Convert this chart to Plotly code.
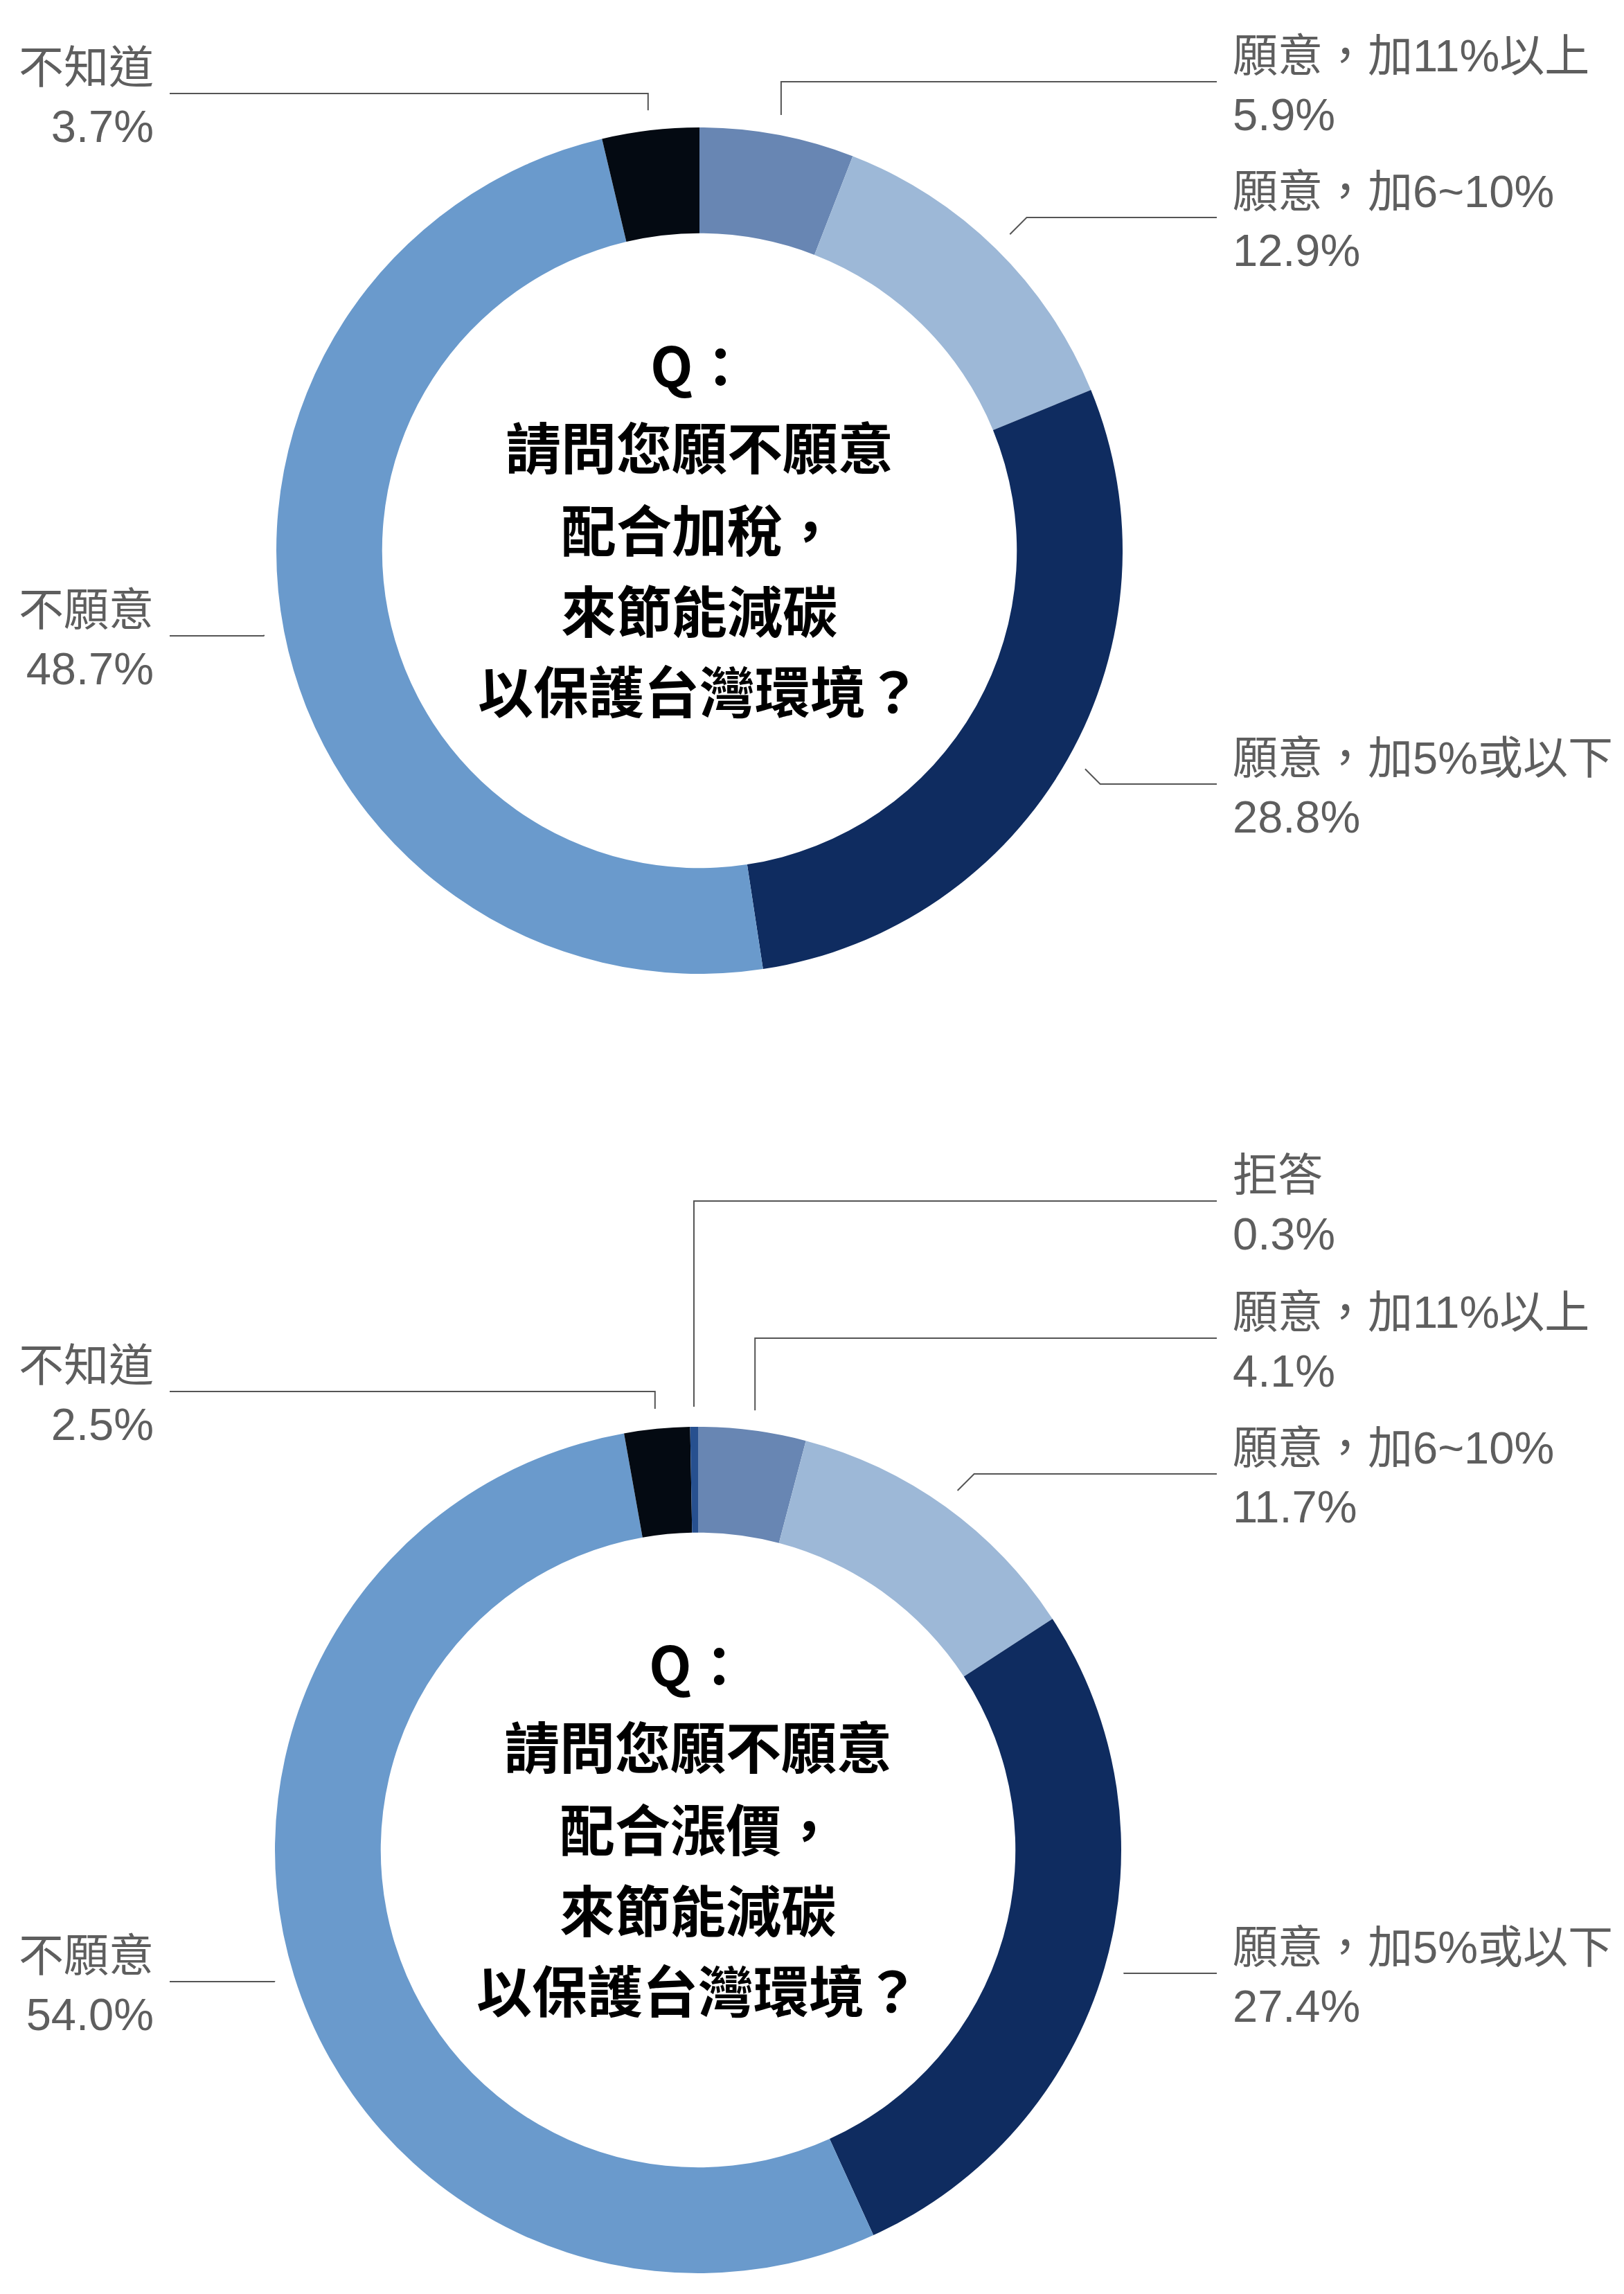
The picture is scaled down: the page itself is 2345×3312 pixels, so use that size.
"""Two donut charts: willingness to pay more for carbon reduction."""

import math

import plotly.graph_objects as go

W, H = 2345, 3312

# ----- data ------------------------------------------------------------------

tax_labels = ["願意，加11%以上", "願意，加6~10%", "願意，加5%或以下", "不願意", "不知道"]
tax_values = [5.9, 12.9, 28.8, 48.7, 3.7]
tax_question = ["Q：", "請問您願不願意", "配合加稅，", "來節能減碳", "以保護台灣環境？"]

price_labels = ["願意，加11%以上", "願意，加6~10%", "願意，加5%或以下", "不願意", "不知道", "拒答"]
price_values = [4.1, 11.7, 27.4, 54.0, 2.5, 0.3]
price_question = ["Q：", "請問您願不願意", "配合漲價，", "來節能減碳", "以保護台灣環境？"]

COLORS = {
    "願意，加11%以上": "#6886B3",
    "願意，加6~10%": "#9DB8D7",
    "願意，加5%或以下": "#0F2C60",
    "不願意": "#6A9ACC",
    "不知道": "#040A12",
    "拒答": "#27508F",
}

# ----- layout (pixels) -------------------------------------------------------

LABEL_FONT = "Liberation Sans, Noto Sans CJK TC, sans-serif"
TITLE_FONT = "Noto Sans CJK TC, sans-serif"
LABEL_COLOR = "#5E5E5E"
LINE_COLOR = "#555555"
RIGHT_LINE_END, RIGHT_TEXT_X = 1749, 1770
LEFT_LINE_END, LEFT_TEXT_X = 237, 216
HOLE = 0.75
LEADER_R = 640
Q_OFFSETS = [-271, -153, -34, 83, 199]

donuts = [
    dict(labels=tax_labels, values=tax_values, question=tax_question,
         cx=1002, cy=787, r=611, line_y=[110, 306, 1124, 910, 127]),
    dict(labels=price_labels, values=price_values, question=price_question,
         cx=1000, cy=2663, r=611, line_y=[1924, 2120, 2841, 2853, 2001, 1726]),
]


fig = go.Figure()
shapes, annotations = [], []

for d in donuts:
    cx, cy, r = d["cx"], d["cy"], d["r"]
    fig.add_trace(go.Pie(
        labels=d["labels"], values=d["values"],
        marker=dict(colors=[COLORS[l] for l in d["labels"]], line=dict(width=0)),
        hole=HOLE, sort=False, direction="clockwise", rotation=0,
        textinfo="none", showlegend=False,
        hovertemplate="%{label}<br>%{value:.1f}%<extra></extra>",
        domain=dict(x=[(cx - r) / W, (cx + r) / W],
                    y=[1 - (cy + r) / H, 1 - (cy - r) / H]),
    ))

    total = sum(d["values"])
    cum = 0.0
    for lab, val, ly in zip(d["labels"], d["values"], d["line_y"]):
        mid = (cum + val / 2) / total * 2 * math.pi
        cum += val
        px = cx + LEADER_R * math.sin(mid)
        py = cy - LEADER_R * math.cos(mid)
        # slices hugging 12 o'clock (e.g. 拒答) still go to the right column
        right = math.sin(mid) > -0.05
        sgn = 1 if right else -1
        step = 0 if abs(math.sin(mid)) < 0.25 else abs(ly - py)
        ex = px + sgn * step
        end = RIGHT_LINE_END if right else LEFT_LINE_END
        shapes.append(dict(
            type="path", xref="x", yref="y",
            path=f"M {px:.1f} {py:.1f} L {ex:.1f} {ly} L {end} {ly}",
            line=dict(color=LINE_COLOR, width=2),
        ))
        annotations.append(dict(
            x=RIGHT_TEXT_X if right else LEFT_TEXT_X, y=ly + 5,
            xref="x", yref="y",
            xanchor="left" if right else "right", yanchor="middle",
            align="left" if right else "right",
            text=f"{lab}<br>{val:.1f}%", showarrow=False,
            font=dict(family=LABEL_FONT, size=65, color=LABEL_COLOR),
        ))

    for line, off in zip(d["question"], Q_OFFSETS):
        annotations.append(dict(
            x=cx, y=cy + off, xref="x", yref="y",
            xanchor="center", yanchor="middle",
            text=f"<b>{line}</b>", showarrow=False,
            font=dict(family=TITLE_FONT, size=80, color="#000000"),
        ))

fig.update_layout(
    width=W, height=H,
    margin=dict(l=0, r=0, t=0, b=0),
    paper_bgcolor="white", plot_bgcolor="white",
    xaxis=dict(range=[0, W], visible=False, fixedrange=True, domain=[0, 1]),
    yaxis=dict(range=[H, 0], visible=False, fixedrange=True, domain=[0, 1]),
    shapes=shapes, annotations=annotations,
)

fig.write_html("out.html")
